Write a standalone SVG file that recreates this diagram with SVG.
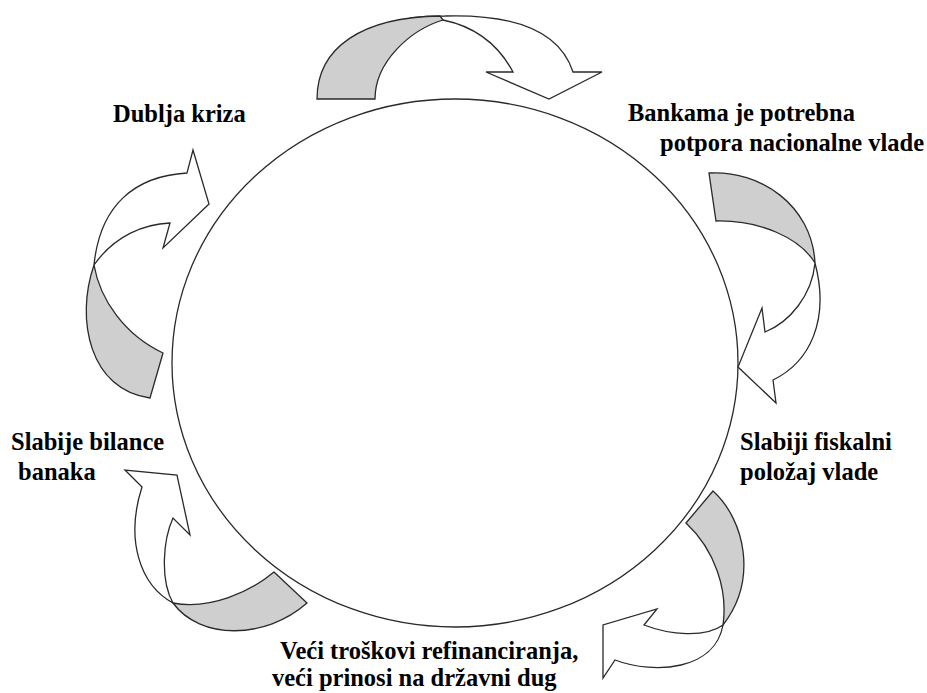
<svg xmlns="http://www.w3.org/2000/svg" width="927" height="693" viewBox="0 0 927 693">
<style>
.lbl{font-family:"Liberation Serif","Times New Roman",serif;font-weight:bold;font-size:24.5px;fill:#000}
.ln{stroke:#2a2a2a;stroke-width:1.3;stroke-linejoin:miter}
.w{fill:#fff}
.g{fill:#cfcfcf}
</style>
<rect width="927" height="693" fill="#fff"/>
<g id="cycle">
<ellipse class="ln" cx="455" cy="363" rx="283" ry="264" fill="none"/>
</g>
<g id="connectors">
<g id="arrow-top">
<path class="ln w" d="M443,20 C472,26 497,42 513,72 L486,72 L549,99 L602,72 L573,72 C560,32 515,14 445,16 C430,16 418,17 410,18 Z"/>
<path class="ln g" d="M317,99 C317,47 363,17 440,16 L443,20 C410,30 375,62 375,99 Z"/>
</g>
<g id="arrow-right-upper">
<path class="ln w" d="M815,263 C812,295 790,322 765,332 L762,308 L738,367 L776,403 L773,380 C810,362 830,320 815,263 Z"/>
<path class="ln g" d="M709,173 C760,170 812,205 815,263 C800,238 760,220 716,221 Z"/>
</g>
<g id="arrow-right-lower">
<path class="ln w" d="M723,625 C705,638 670,635 644,625 L657,609 L603,625 L603,678 L615,660 C655,675 715,670 723,625 Z"/>
<path class="ln g" d="M713,491 C745,520 758,580 723,625 C728,590 715,550 686,523 Z"/>
</g>
<g id="arrow-left-lower">
<path class="ln w" d="M173,603 C140,585 125,540 142,487 L125,470 L177,475 L190,535 L173,518 C163,540 160,580 173,603 Z"/>
<path class="ln g" d="M274,572 L307,603 C265,640 200,640 173,603 C210,610 250,592 274,572 Z"/>
</g>
<g id="arrow-left-upper">
<path class="ln w" d="M94,265 C100,205 135,176 187,173 L193,150 L209,204 L163,248 L170,223 C145,224 115,235 94,265 Z"/>
<path class="ln g" d="M94,265 C75,320 90,390 150,398 L163,353 C125,335 100,300 94,265 Z"/>
</g>
</g>
<g id="node-dublja-kriza"><text class="lbl" x="113" y="122">Dublja kriza</text></g>
<g id="node-bankama"><text class="lbl" x="628" y="121">Bankama je potrebna</text><text class="lbl" x="660" y="151">potpora nacionalne vlade</text></g>
<g id="node-slabiji-fiskalni"><text class="lbl" x="740" y="450">Slabiji fiskalni</text><text class="lbl" x="740" y="480">položaj vlade</text></g>
<g id="node-veci-troskovi"><text class="lbl" x="280" y="659">Veći troškovi refinanciranja,</text><text class="lbl" x="272" y="686">veći prinosi na državni dug</text></g>
<g id="node-slabije-bilance"><text class="lbl" x="11" y="450">Slabije bilance</text><text class="lbl" x="18" y="480">banaka</text></g>
</svg>
